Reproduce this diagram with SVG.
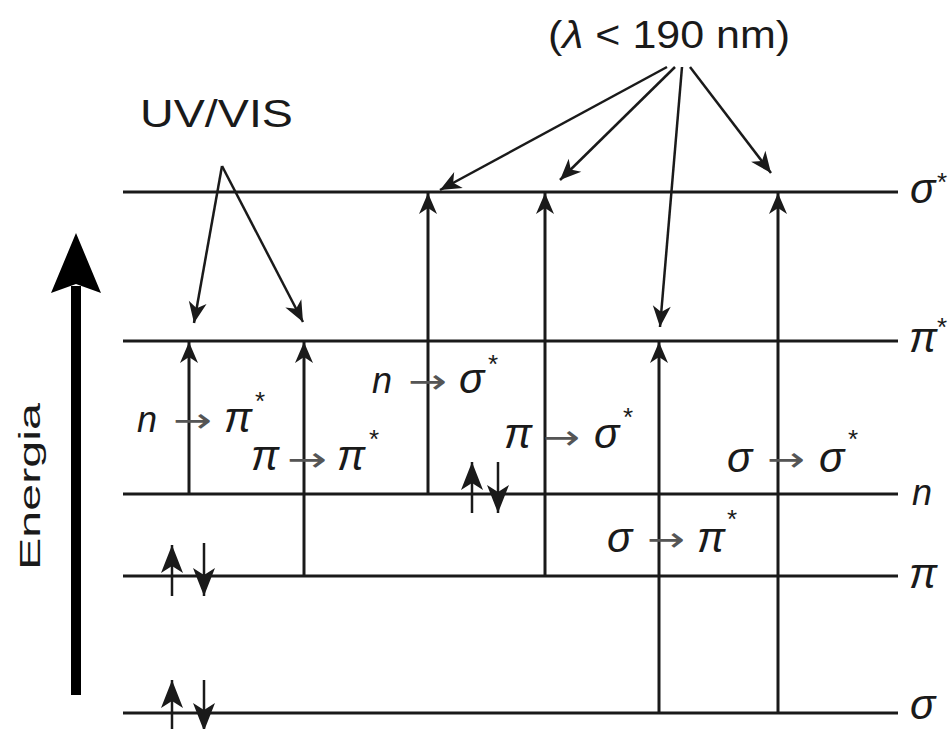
<svg xmlns="http://www.w3.org/2000/svg" width="949" height="729" viewBox="0 0 949 729">
<style>
.lvl{stroke:#1a1a1a;stroke-width:3;fill:none}
.tr{stroke:#1a1a1a;stroke-width:3;fill:none;marker-end:url(#ah)}
.an{stroke:#1a1a1a;stroke-width:2.5;fill:none;marker-end:url(#ah)}
.el{stroke:#1a1a1a;stroke-width:2.5;fill:none;marker-end:url(#eh)}
.sym{font-family:"Liberation Sans","DejaVu Sans",sans-serif;font-style:italic;font-size:36px;fill:#1a1a1a}
.gr{font-family:"Liberation Sans","DejaVu Sans",sans-serif;font-style:italic;font-size:42px;fill:#1a1a1a}
.arr{font-family:"DejaVu Sans",sans-serif;font-size:34px;fill:#555}
.st{font-family:"Liberation Sans","DejaVu Sans",sans-serif;font-size:26px;fill:#1a1a1a}
.lab{font-family:"Liberation Sans","Arial",sans-serif;font-size:38px;fill:#1a1a1a}
</style>
<defs>
<marker id="ah" markerUnits="userSpaceOnUse" viewBox="-22 -10 24 20" refX="0" refY="0" markerWidth="24" markerHeight="20" orient="auto" overflow="visible">
<path d="M0,0 L-21,-9 L-15,0 L-21,9 Z" fill="#1a1a1a"/>
</marker>
<marker id="eh" markerUnits="userSpaceOnUse" viewBox="-30 -12 32 24" refX="0" refY="0" markerWidth="32" markerHeight="24" orient="auto" overflow="visible">
<path d="M0,0 L-28,-11 L-21,0 L-28,11 Z" fill="#1a1a1a"/>
</marker>
</defs>
<rect width="949" height="729" fill="#fff"/>

<g id="levels">
<line class="lvl" x1="123" y1="192" x2="898" y2="192"/>
<line class="lvl" x1="123" y1="341" x2="898" y2="341"/>
<line class="lvl" x1="123" y1="494" x2="898" y2="494"/>
<line class="lvl" x1="123" y1="576" x2="898" y2="576"/>
<line class="lvl" x1="123" y1="713" x2="898" y2="713"/>
</g>

<g id="level-labels">
<text class="gr" x="910" y="203">σ</text><text class="st" x="937" y="191">*</text>
<text class="gr" x="909" y="352">π</text><text class="st" x="937" y="336">*</text>
<text class="sym" x="912" y="505">n</text>
<text class="gr" x="909" y="588">π</text>
<text class="gr" x="910" y="719">σ</text>
</g>

<g id="energy">
<line x1="76" y1="695" x2="76" y2="286" stroke="#000" stroke-width="10"/>
<path d="M76,233 L101,293 L76,284 L51,293 Z" fill="#000"/>
<text class="lab" transform="translate(40,570) rotate(-90)" textLength="167" lengthAdjust="spacingAndGlyphs" style="font-size:30px">Energia</text>
</g>

<g id="connectors">
<line class="tr" x1="189" y1="494" x2="189" y2="342"/>
<line class="tr" x1="304" y1="576" x2="304" y2="342"/>
<line class="tr" x1="428" y1="494" x2="428" y2="193"/>
<line class="tr" x1="545" y1="576" x2="545" y2="193"/>
<line class="tr" x1="659" y1="713" x2="659" y2="342"/>
<line class="tr" x1="778" y1="713" x2="778" y2="193"/>
<line class="an" x1="222" y1="166" x2="194" y2="323"/>
<line class="an" x1="222" y1="166" x2="303" y2="322"/>
<line class="an" x1="667" y1="67" x2="440" y2="190"/>
<line class="an" x1="675" y1="67" x2="560" y2="180"/>
<line class="an" x1="682" y1="67" x2="660" y2="327"/>
<line class="an" x1="690" y1="67" x2="771" y2="173"/>
</g>

<g id="electrons">
<line class="el" x1="172" y1="596" x2="172" y2="545"/>
<line class="el" x1="204" y1="543" x2="204" y2="596"/>
<line class="el" x1="472" y1="513" x2="472" y2="462"/>
<line class="el" x1="498" y1="462" x2="498" y2="513"/>
<line class="el" x1="172" y1="732" x2="172" y2="680"/>
<line class="el" x1="204" y1="680" x2="204" y2="731"/>
</g>

<g id="uvvis">
<text class="lab" x="140" y="127" textLength="153" lengthAdjust="spacingAndGlyphs">UV/VIS</text>
</g>
<g id="lambda">
<text class="lab" x="548" y="48" textLength="242" lengthAdjust="spacingAndGlyphs">(<tspan font-style="italic">λ</tspan> &lt; 190 nm)</text>
</g>

<g id="t-n-pistar">
<text class="sym" x="137" y="432">n</text>
<text class="arr" x="173" y="432" textLength="39" lengthAdjust="spacingAndGlyphs">→</text>
<text class="gr" x="224" y="432">π</text><text class="st" x="255" y="410">*</text>
</g>
<g id="t-pi-pistar">
<text class="gr" x="251" y="470">π</text>
<text class="arr" x="287" y="471" textLength="40" lengthAdjust="spacingAndGlyphs">→</text>
<text class="gr" x="337" y="470">π</text><text class="st" x="369" y="448">*</text>
</g>
<g id="t-n-sigmastar">
<text class="sym" x="372" y="393">n</text>
<text class="arr" x="408" y="393" textLength="39" lengthAdjust="spacingAndGlyphs">→</text>
<text class="gr" x="459" y="393">σ</text><text class="st" x="488" y="373">*</text>
</g>
<g id="t-pi-sigmastar">
<text class="gr" x="504" y="448">π</text>
<text class="arr" x="543" y="449" textLength="37" lengthAdjust="spacingAndGlyphs">→</text>
<text class="gr" x="594" y="448">σ</text><text class="st" x="623" y="426">*</text>
</g>
<g id="t-sigma-sigmastar">
<text class="gr" x="727" y="472">σ</text>
<text class="arr" x="767" y="471" textLength="38" lengthAdjust="spacingAndGlyphs">→</text>
<text class="gr" x="819" y="472">σ</text><text class="st" x="848" y="448">*</text>
</g>
<g id="t-sigma-pistar">
<text class="gr" x="607" y="552">σ</text>
<text class="arr" x="647" y="551" textLength="38" lengthAdjust="spacingAndGlyphs">→</text>
<text class="gr" x="697" y="552">π</text><text class="st" x="727" y="528">*</text>
</g>
</svg>
